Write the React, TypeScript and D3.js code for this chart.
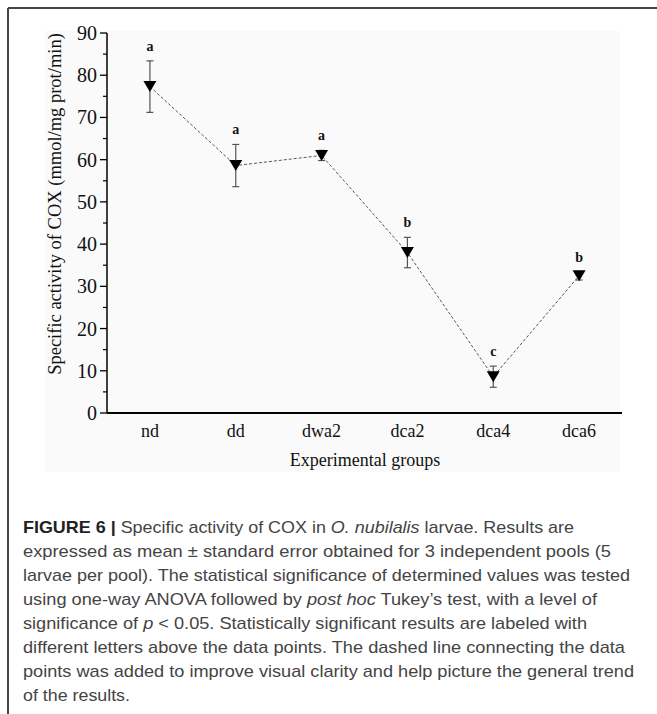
import React from "react";
import * as d3 from "d3";

const categories = ["nd", "dd", "dwa2", "dca2", "dca4", "dca6"];
const means = [77.3, 58.6, 61.0, 38.0, 8.6, 32.5];
const errors = [6.1, 5.0, 1.2, 3.6, 2.5, 1.0];
const letters = ["a", "a", "a", "b", "c", "b"];
const yTicks = [0, 10, 20, 30, 40, 50, 60, 70, 80, 90];
const yMinorTicks = [5, 15, 25, 35, 45, 55, 65, 75, 85];
const yLabel = "Specific activity of COX (mmol/mg prot/min)";
const xLabel = "Experimental groups";

type Seg = { t: string; b?: boolean; i?: boolean };
const captionLines: Seg[][] = [
  [{ t: "FIGURE 6 | ", b: true }, { t: "Specific activity of COX in " }, { t: "O. nubilalis", i: true }, { t: " larvae. Results are" }],
  [{ t: "expressed as mean \u00b1 standard error obtained for 3 independent pools (5" }],
  [{ t: "larvae per pool). The statistical significance of determined values was tested" }],
  [{ t: "using one-way ANOVA followed by " }, { t: "post hoc", i: true }, { t: " Tukey\u2019s test, with a level of" }],
  [{ t: "significance of " }, { t: "p", i: true }, { t: " < 0.05. Statistically significant results are labeled with" }],
  [{ t: "different letters above the data points. The dashed line connecting the data" }],
  [{ t: "points was added to improve visual clarity and help picture the general trend" }],
  [{ t: "of the results." }],
];
const captionLineEnds = [574, 611, 630, 597, 587, 625, 634, 130];

const W = 657;
const H = 714;
const plot = { left: 107, right: 622, top: 33, bottom: 413 };

export default function App() {
  const x = d3
    .scaleBand<string>()
    .domain(categories)
    .range([plot.left, plot.right])
    .paddingInner(0)
    .paddingOuter(0);
  const y = d3.scaleLinear().domain([0, 90]).range([plot.bottom, plot.top]);
  const cx = (c: string) => (x(c) as number) + x.bandwidth() / 2;

  const line = d3
    .line<number>()
    .x((_, i) => cx(categories[i]))
    .y((d) => y(d));

  const tri = (px: number, py: number) => {
    const w = 6.5;
    const h = 11;
    return `M${px - w},${py - h / 2}L${px + w},${py - h / 2}L${px},${py + h / 2}Z`;
  };

  const serif = "'Liberation Serif', 'Times New Roman', serif";
  const sans = "'Liberation Sans', Arial, sans-serif";
  const capX = 23;
  const capY0 = 533;
  const capDy = 24;

  return (
    <svg
      width={W}
      height={H}
      style={{ position: "absolute", left: 0, top: 0, background: "#fff" }}
    >
      {/* frame */}
      <line x1={8} y1={8} x2={W} y2={8} stroke="#444" strokeWidth={2} />
      <line x1={8} y1={8} x2={8} y2={H} stroke="#444" strokeWidth={2} />

      {/* chart background */}
      <rect x={45} y={31} width={575} height={441} fill="#fafafa" />

      {/* y axis */}
      <line x1={plot.left} y1={plot.top} x2={plot.left} y2={plot.bottom} stroke="#000" strokeWidth={1.5} />
      {yTicks.map((t) => (
        <g key={"t" + t}>
          <line x1={plot.left - 7} x2={plot.left} y1={y(t)} y2={y(t)} stroke="#000" strokeWidth={1.3} />
          <text x={plot.left - 10} y={y(t)} dy="0.35em" textAnchor="end" fontFamily={serif} fontSize={20} fill="#111">
            {t}
          </text>
        </g>
      ))}
      {yMinorTicks.map((t) => (
        <line key={"m" + t} x1={plot.left - 4} x2={plot.left} y1={y(t)} y2={y(t)} stroke="#000" strokeWidth={1.2} />
      ))}

      {/* x axis */}
      <line x1={plot.left} y1={plot.bottom} x2={plot.right} y2={plot.bottom} stroke="#000" strokeWidth={1.8} />
      {categories.map((c) => (
        <text key={"x" + c} x={cx(c)} y={437} textAnchor="middle" fontFamily={serif} fontSize={18} fill="#111">
          {c}
        </text>
      ))}
      <text x={365} y={466} textAnchor="middle" fontFamily={serif} fontSize={18} fill="#111">
        {xLabel}
      </text>
      <text
        transform={`translate(61, 204) rotate(-90)`}
        textAnchor="middle"
        fontFamily={serif}
        fontSize={18.5}
        fill="#111"
      >
        {yLabel}
      </text>

      {/* dashed line */}
      <path d={line(means) || ""} fill="none" stroke="#444" strokeWidth={0.9} strokeDasharray="3,2" />

      {/* error bars */}
      {means.map((m, i) => {
        const px = cx(categories[i]);
        const top = y(m + errors[i]);
        const bot = y(m - errors[i]);
        return (
          <g key={"e" + i} stroke="#555" strokeWidth={1.2}>
            <line x1={px} x2={px} y1={top} y2={bot} />
            <line x1={px - 3.5} x2={px + 3.5} y1={top} y2={top} />
            <line x1={px - 3.5} x2={px + 3.5} y1={bot} y2={bot} />
          </g>
        );
      })}

      {/* markers */}
      {means.map((m, i) => (
        <path key={"p" + i} d={tri(cx(categories[i]), y(m))} fill="#000" />
      ))}

      {/* letters */}
      {means.map((m, i) => (
        <text
          key={"l" + i}
          x={cx(categories[i])}
          y={y(m + errors[i]) - 10}
          textAnchor="middle"
          fontFamily={serif}
          fontWeight="bold"
          fontSize={14}
          fill="#111"
        >
          {letters[i]}
        </text>
      ))}

      {/* caption */}
      {captionLines.map((segs, li) => (
        <text
          key={"c" + li}
          x={capX}
          y={capY0 + li * capDy}
          fontFamily={sans}
          fontSize={17}
          fill="#444"
          textLength={captionLineEnds[li] - capX}
          lengthAdjust="spacingAndGlyphs"
        >
          {segs.map((s, si) => (
            <tspan
              key={si}
              fontWeight={s.b ? "bold" : "normal"}
              fontStyle={s.i ? "italic" : "normal"}
              fill={s.b ? "#222" : "#444"}
            >
              {s.t}
            </tspan>
          ))}
        </text>
      ))}
    </svg>
  );
}
